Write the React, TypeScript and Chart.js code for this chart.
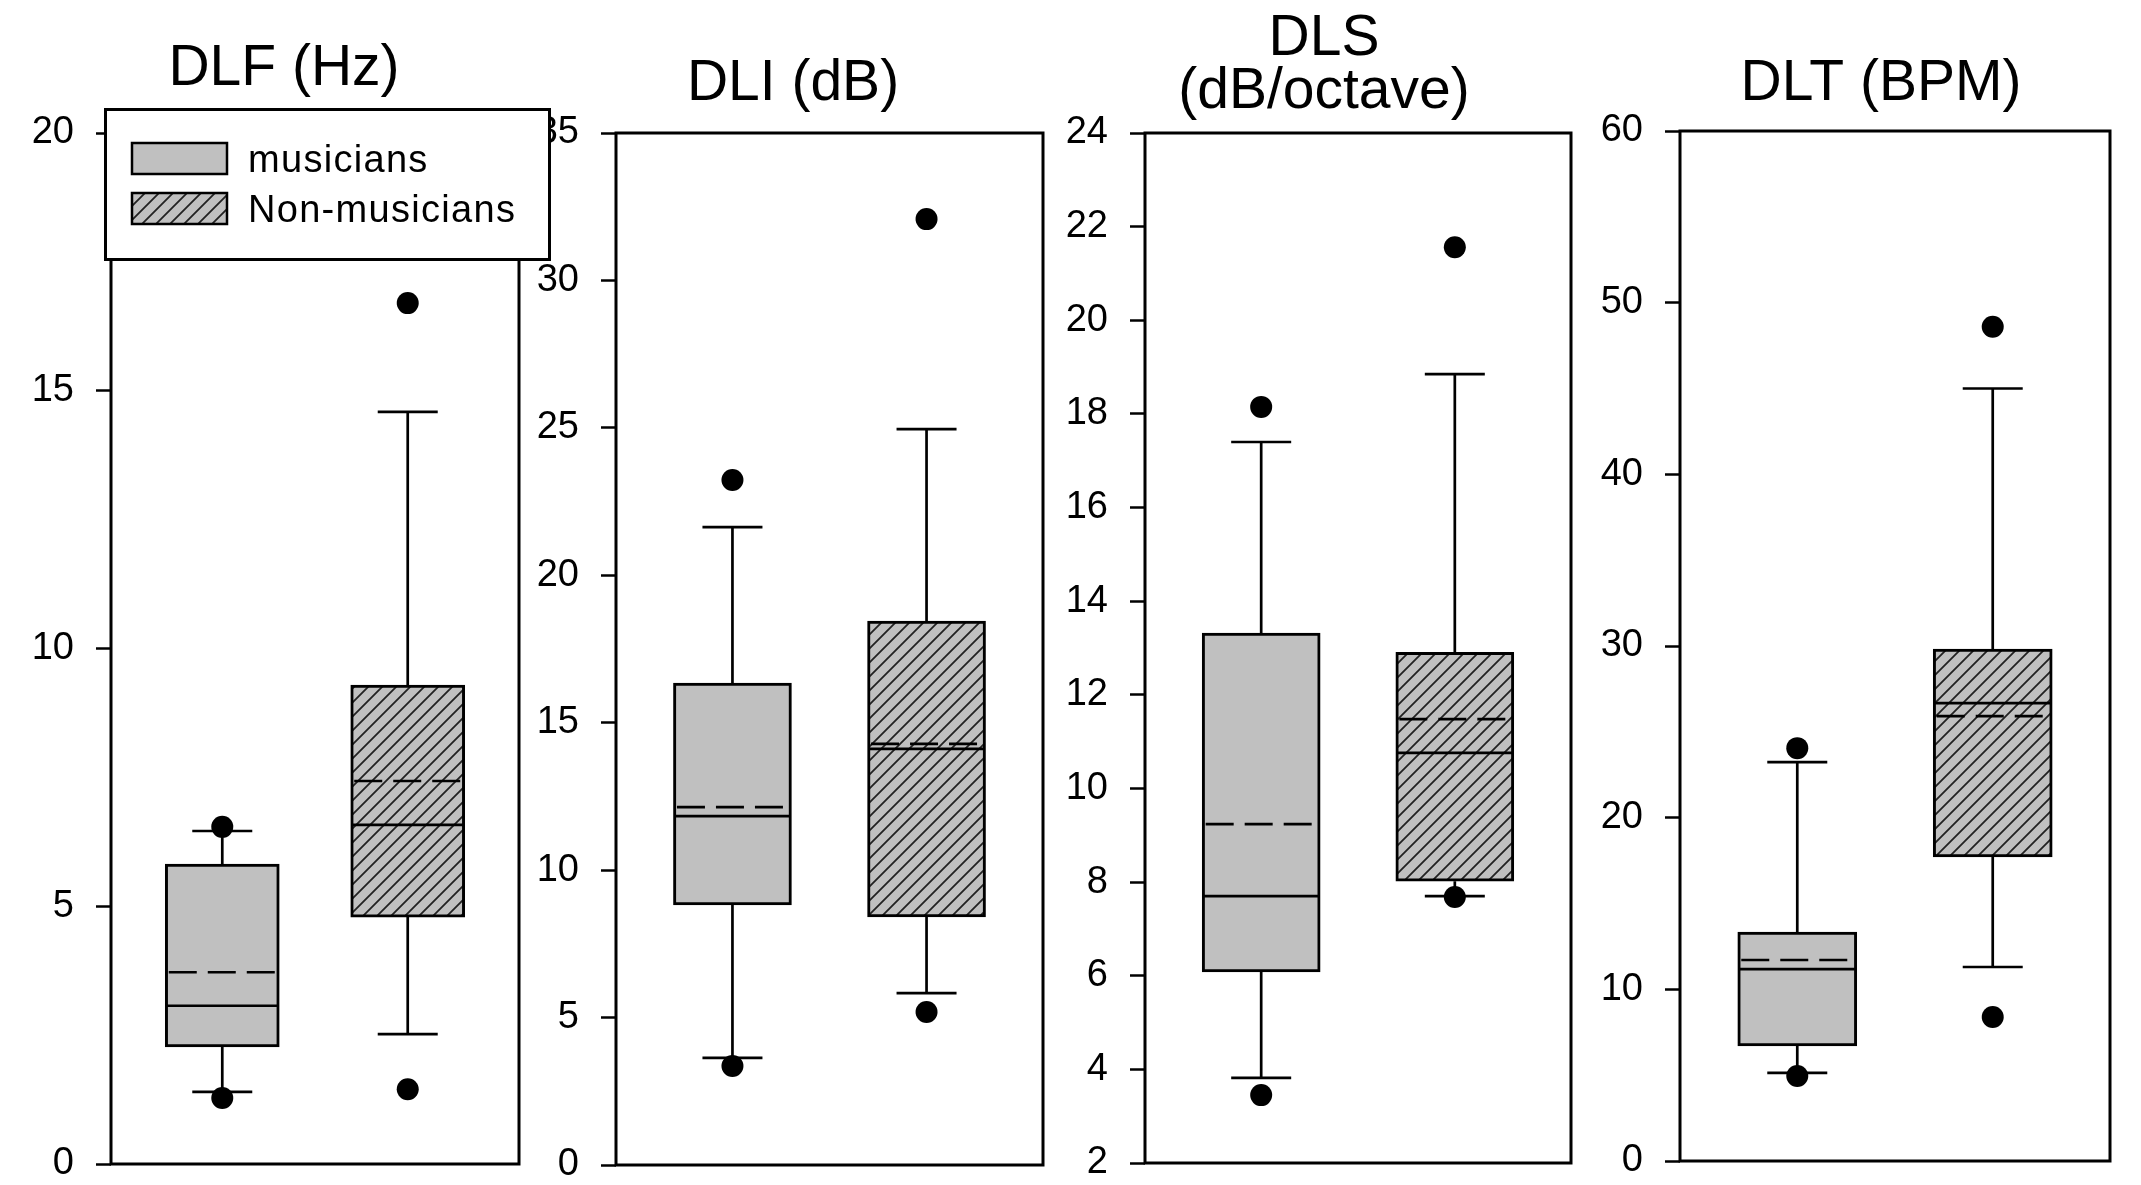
import React, { useEffect, useRef } from 'react';
import { Chart, registerables } from 'chart.js';

Chart.register(...registerables);

// ---------- data ----------
const groups = ['musicians', 'Non-musicians'];

const dlfTitle = ['DLF (Hz)'];
const dlfTicks = [0, 5, 10, 15, 20];
const dlfQ1 = [2.27, 4.79];
const dlfMedian = [3.07, 6.58];
const dlfQ3 = [5.82, 9.29];
const dlfMean = [3.72, 7.43];
const dlfWhiskerLow = [1.4, 2.52];
const dlfWhiskerHigh = [6.46, 14.59];
const dlfOutliers = [[1.28, 6.54], [1.45, 16.7]];

const dliTitle = ['DLI (dB)'];
const dliTicks = [0, 5, 10, 15, 20, 25, 30, 35];
const dliQ1 = [8.82, 8.41];
const dliMedian = [11.83, 14.11];
const dliQ3 = [16.34, 18.45];
const dliMean = [12.14, 14.28];
const dliWhiskerLow = [3.63, 5.83];
const dliWhiskerHigh = [21.63, 24.96];
const dliOutliers = [[3.36, 23.23], [5.19, 32.08]];

const dlsTitle = ['DLS', '(dB/octave)'];
const dlsTicks = [2, 4, 6, 8, 10, 12, 14, 16, 18, 20, 22, 24];
const dlsQ1 = [6.08, 8.02];
const dlsMedian = [7.7, 10.76];
const dlsQ3 = [13.32, 12.91];
const dlsMean = [9.24, 11.48];
const dlsWhiskerLow = [3.82, 7.7];
const dlsWhiskerHigh = [17.4, 18.85];
const dlsOutliers = [[3.45, 18.15], [7.68, 21.56]];

const dltTitle = ['DLT (BPM)'];
const dltTicks = [0, 10, 20, 30, 40, 50, 60];
const dltQ1 = [6.7, 17.71];
const dltMedian = [11.18, 26.67];
const dltQ3 = [13.34, 29.82];
const dltMean = [11.71, 25.92];
const dltWhiskerLow = [5.13, 11.3];
const dltWhiskerHigh = [23.24, 45.0];
const dltOutliers = [[4.95, 24.05], [8.39, 48.6]];

// ---------- layout / style (not data) ----------
const W = 2141;
const H = 1185;
const AXIS_W = 120;
const PAD_R = 6;
const FONT = '"Liberation Sans", Arial, Helvetica, sans-serif';
const GRAY = '#c0c0c0';

const panels = [
  { title: dlfTitle, ticks: dlfTicks, q1: dlfQ1, med: dlfMedian, q3: dlfQ3, mean: dlfMean, wl: dlfWhiskerLow, wh: dlfWhiskerHigh, out: dlfOutliers,
    L: 111, R: 524, T: 133, B: 1164, bt: 114, tx: 284, ty: [85] },
  { title: dliTitle, ticks: dliTicks, q1: dliQ1, med: dliMedian, q3: dliQ3, mean: dliMean, wl: dliWhiskerLow, wh: dliWhiskerHigh, out: dliOutliers,
    L: 616, R: 1048, T: 133, B: 1165, bt: 118, tx: 793, ty: [100] },
  { title: dlsTitle, ticks: dlsTicks, q1: dlsQ1, med: dlsMedian, q3: dlsQ3, mean: dlsMean, wl: dlsWhiskerLow, wh: dlsWhiskerHigh, out: dlsOutliers,
    L: 1145, R: 1576, T: 133, B: 1163, bt: 118, tx: 1324, ty: [55, 108] },
  { title: dltTitle, ticks: dltTicks, q1: dltQ1, med: dltMedian, q3: dltQ3, mean: dltMean, wl: dltWhiskerLow, wh: dltWhiskerHigh, out: dltOutliers,
    L: 1680, R: 2115, T: 131, B: 1161, bt: 119, tx: 1881, ty: [100] },
];

function makeHatch(ctx: CanvasRenderingContext2D): CanvasPattern | string {
  const c = document.createElement('canvas');
  c.width = 14;
  c.height = 14;
  const g = c.getContext('2d');
  if (!g) return GRAY;
  g.fillStyle = GRAY;
  g.fillRect(0, 0, 14, 14);
  g.strokeStyle = '#222';
  g.lineWidth = 1.8;
  g.beginPath();
  g.moveTo(-2, 16); g.lineTo(16, -2);
  g.moveTo(-3, 3); g.lineTo(3, -3);
  g.moveTo(11, 17); g.lineTo(17, 11);
  g.stroke();
  return ctx.createPattern(c, 'repeat') || GRAY;
}

function makeBoxPlugin(p: any, canvasLeft: number) {
  return {
    id: 'boxDetails',
    beforeDatasetsDraw(chart: any) {
      const { ctx, scales } = chart;
      const x = scales.x, y = scales.y;
      ctx.save();
      ctx.strokeStyle = '#000';
      ctx.lineWidth = 2.7;
      ctx.setLineDash([]);
      p.q1.forEach((_: number, i: number) => {
        const cx = x.getPixelForValue(i);
        const capHalf = 30;
        ctx.beginPath();
        ctx.moveTo(cx, y.getPixelForValue(p.q3[i]));
        ctx.lineTo(cx, y.getPixelForValue(p.wh[i]));
        ctx.moveTo(cx - capHalf, y.getPixelForValue(p.wh[i]));
        ctx.lineTo(cx + capHalf, y.getPixelForValue(p.wh[i]));
        ctx.moveTo(cx, y.getPixelForValue(p.q1[i]));
        ctx.lineTo(cx, y.getPixelForValue(p.wl[i]));
        ctx.moveTo(cx - capHalf, y.getPixelForValue(p.wl[i]));
        ctx.lineTo(cx + capHalf, y.getPixelForValue(p.wl[i]));
        ctx.stroke();
      });
      ctx.restore();
    },
    afterDatasetDraw(chart: any, args: any) {
      if (args.meta.type !== 'bar') return;
      const { ctx, scales } = chart;
      const y = scales.y;
      ctx.save();
      ctx.strokeStyle = '#000';
      ctx.lineWidth = 2.7;
      args.meta.data.forEach((el: any, i: number) => {
        const half = el.width / 2 - 1.5;
        const yMed = y.getPixelForValue(p.med[i]);
        const yMean = y.getPixelForValue(p.mean[i]);
        ctx.setLineDash([]);
        ctx.beginPath();
        ctx.moveTo(el.x - half, yMed);
        ctx.lineTo(el.x + half, yMed);
        ctx.stroke();
        ctx.setLineDash([28, 11]);
        ctx.beginPath();
        ctx.moveTo(el.x - half + 2, yMean);
        ctx.lineTo(el.x + half, yMean);
        ctx.stroke();
      });
      ctx.restore();
    },
    afterDraw(chart: any) {
      const { ctx, chartArea } = chart;
      ctx.save();
      ctx.strokeStyle = '#000';
      ctx.lineWidth = 3;
      ctx.setLineDash([]);
      ctx.strokeRect(chartArea.left, chartArea.top, chartArea.right - chartArea.left, chartArea.bottom - chartArea.top);
      ctx.fillStyle = '#000';
      ctx.font = `57px ${FONT}`;
      ctx.textAlign = 'center';
      ctx.textBaseline = 'alphabetic';
      p.title.forEach((line: string, k: number) => {
        ctx.fillText(line, p.tx - canvasLeft, p.ty[k]);
      });
      ctx.restore();
    },
  };
}

function drawLegend(canvas: HTMLCanvasElement) {
  const ctx = canvas.getContext('2d');
  if (!ctx) return;
  const w = canvas.width, h = canvas.height;
  ctx.clearRect(0, 0, w, h);
  ctx.fillStyle = '#fff';
  ctx.fillRect(0, 0, w, h);
  ctx.strokeStyle = '#000';
  ctx.lineWidth = 3;
  ctx.strokeRect(1.5, 1.5, w - 3, h - 3);
  const fills = [GRAY, makeHatch(ctx)];
  const rows = [35, 85];
  const baselines = [64, 114];
  groups.forEach((name, i) => {
    ctx.fillStyle = fills[i] as any;
    ctx.fillRect(28, rows[i], 95, 31);
    ctx.lineWidth = 2.5;
    ctx.strokeRect(28, rows[i], 95, 31);
    ctx.fillStyle = '#000';
    ctx.font = `38px ${FONT}`;
    (ctx as any).letterSpacing = '1.3px';
    ctx.textAlign = 'left';
    ctx.textBaseline = 'alphabetic';
    ctx.fillText(name, 144, baselines[i]);
  });
}

export default function App() {
  const canvasRefs = useRef<(HTMLCanvasElement | null)[]>([]);
  const legendRef = useRef<HTMLCanvasElement | null>(null);

  useEffect(() => {
    const charts: Chart[] = [];
    panels.forEach((p, idx) => {
      const canvas = canvasRefs.current[idx];
      if (!canvas) return;
      const ctx = canvas.getContext('2d');
      if (!ctx) return;
      const canvasLeft = p.L - AXIS_W;
      const hatch = makeHatch(ctx);
      const outlierPoints: { x: number; y: number }[] = [];
      p.out.forEach((vals, gi) => vals.forEach((v) => outlierPoints.push({ x: gi, y: v })));
      const chart = new Chart(canvas, {
        type: 'bar',
        data: {
          datasets: [
            {
              type: 'scatter',
              label: 'outliers',
              data: outlierPoints,
              pointRadius: 11,
              pointHoverRadius: 11,
              pointBackgroundColor: '#000',
              backgroundColor: '#000',
              borderWidth: 0,
              order: 0,
            } as any,
            {
              type: 'bar',
              label: 'box',
              data: groups.map((g, i) => ({ x: i, y: [p.q1[i], p.q3[i]] })),
              backgroundColor: [GRAY, hatch],
              borderColor: '#000',
              borderWidth: 3,
              borderSkipped: false,
              barThickness: p.bt,
              order: 1,
            } as any,
          ],
        },
        options: {
          responsive: false,
          animation: false,
          events: [],
          devicePixelRatio: 1,
          layout: { padding: { left: 0, right: PAD_R, top: p.T, bottom: H - p.B } },
          plugins: {
            legend: { display: false },
            tooltip: { enabled: false },
            title: { display: false },
          },
          scales: {
            x: { type: 'linear', min: -0.6, max: 1.6, offset: false, display: false },
            y: {
              type: 'linear',
              min: p.ticks[0],
              max: p.ticks[p.ticks.length - 1],
              afterFit: (s: any) => { s.width = AXIS_W; s.paddingTop = 0; s.paddingBottom = 0; },
              afterBuildTicks: (s: any) => { s.ticks = p.ticks.map((v) => ({ value: v })); },
              ticks: { font: { family: FONT, size: 38 }, color: '#000', padding: 22 },
              grid: { drawOnChartArea: false, drawTicks: true, tickLength: 15, tickWidth: 2.5, tickColor: '#000' },
              border: { display: false },
            },
          },
        } as any,
        plugins: [makeBoxPlugin(p, canvasLeft)],
      });
      charts.push(chart);
    });
    if (legendRef.current) drawLegend(legendRef.current);
    return () => {
      charts.forEach((c) => c.destroy());
    };
  }, []);

  return (
    <div style={{ position: 'fixed', left: 0, top: 0, width: W, height: H, background: '#fff', overflow: 'hidden' }}>
      {panels.map((p, idx) => {
        const left = p.L - AXIS_W;
        const width = p.R - p.L + AXIS_W + PAD_R;
        return (
          <canvas
            key={idx}
            ref={(el) => { canvasRefs.current[idx] = el; }}
            width={width}
            height={H}
            style={{ position: 'absolute', left, top: 0, width, height: H }}
          />
        );
      })}
      <canvas
        ref={legendRef}
        width={447}
        height={153}
        style={{ position: 'absolute', left: 104, top: 108, width: 447, height: 153, zIndex: 5 }}
      />
    </div>
  );
}
